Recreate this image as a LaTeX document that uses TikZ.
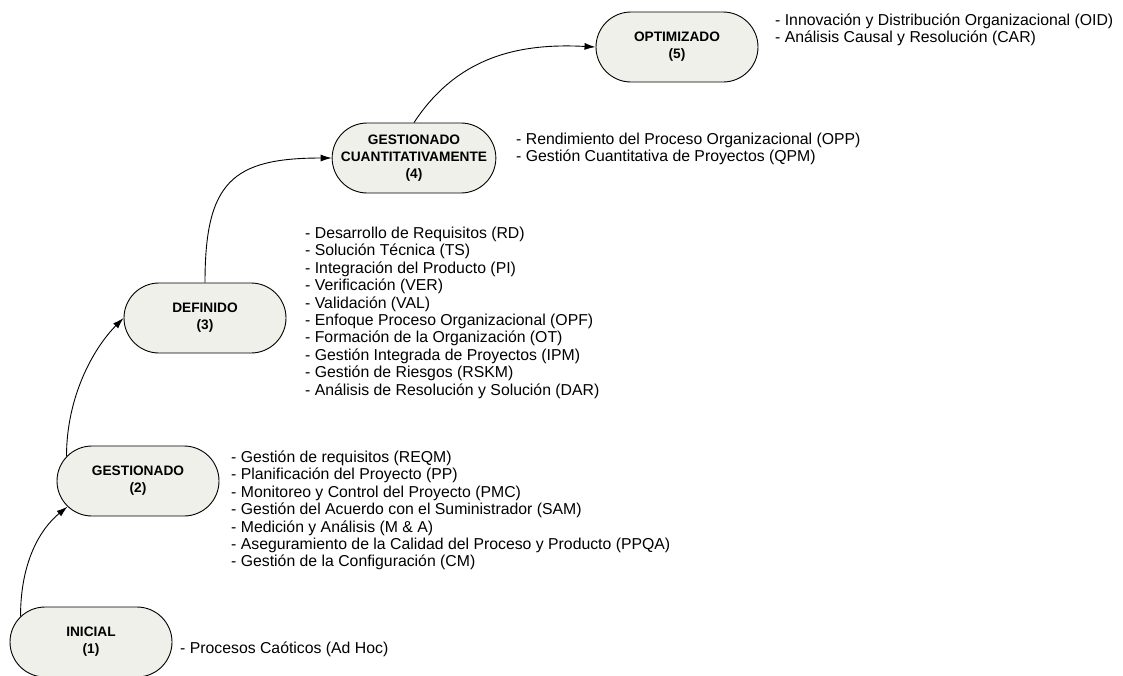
\documentclass[tikz,border=0pt]{standalone}
\usepackage{fontspec}
\setmainfont{Liberation Sans}
\usetikzlibrary{shapes.misc,arrows.meta}
\definecolor{levelfill}{RGB}{239,240,233}
\begin{document}
\begin{tikzpicture}[x=1pt,y=-1pt,
  level/.style={rounded rectangle, draw=black, line width=0.9pt, fill=levelfill,
    minimum width=162pt, minimum height=70pt, inner sep=0pt, align=center,
    font=\fontsize{13.7}{17}\selectfont\bfseries},
  % anchored at the baseline of the last line of each list
  areas/.style={anchor=base west, inner sep=0pt, align=left,
    font=\fontsize{15.8}{17.4}\selectfont},
  link/.style={line width=0.9pt, -{Latex[length=11pt,width=7pt]}}
]
\useasboundingbox (0,0) rectangle (1123,675);

% maturity levels
\node[level] (l1) at (91,642) {INICIAL\\(1)};
\node[level] (l2) at (138,481) {GESTIONADO\\(2)};
\node[level] (l3) at (205,318) {DEFINIDO\\(3)};
\node[level] (l4) at (414,158) {GESTIONADO\\CUANTITATIVAMENTE\\(4)};
\node[level] (l5) at (677,47) {OPTIMIZADO\\(5)};

% process areas of each level
\node[areas] (a1) at (180,653.5) {- Procesos Caóticos (Ad Hoc)};
\node[areas] (a2) at (231,566.9) {- Gestión de requisitos (REQM)\\
  - Planificación del Proyecto (PP)\\
  - Monitoreo y Control del Proyecto (PMC)\\
  - Gestión del Acuerdo con el Suministrador (SAM)\\
  - Medición y Análisis (M \& A)\\
  - Aseguramiento de la Calidad del Proceso y Producto (PPQA)\\
  - Gestión de la Configuración (CM)};
\node[areas] (a3) at (305,395.1) {- Desarrollo de Requisitos (RD)\\
  - Solución Técnica (TS)\\
  - Integración del Producto (PI)\\
  - Verificación (VER)\\
  - Validación (VAL)\\
  - Enfoque Proceso Organizacional (OPF)\\
  - Formación de la Organización (OT)\\
  - Gestión Integrada de Proyectos (IPM)\\
  - Gestión de Riesgos (RSKM)\\
  - Análisis de Resolución y Solución (DAR)};
\node[areas] (a4) at (516,161.9) {- Rendimiento del Proceso Organizacional (OPP)\\
  - Gestión Cuantitativa de Proyectos (QPM)};
\node[areas] (a5) at (775,42.9) {- Innovación y Distribución Organizacional (OID)\\
  - Análisis Causal y Resolución (CAR)};

% progression between levels
\draw[link] (l1.160) .. controls +(0,-55) and +(-27,22) .. (l2.200);
\draw[link] (l2.161) .. controls +(0,-60) and +(-30,30) .. (l3.west);
\draw[link] (l3.north) .. controls +(0,-100) and +(-100,0) .. (l4.west);
\draw[link] (l4.north) .. controls +(44,-67) and +(-75,-4) .. (l5.west);
\end{tikzpicture}
\end{document}
